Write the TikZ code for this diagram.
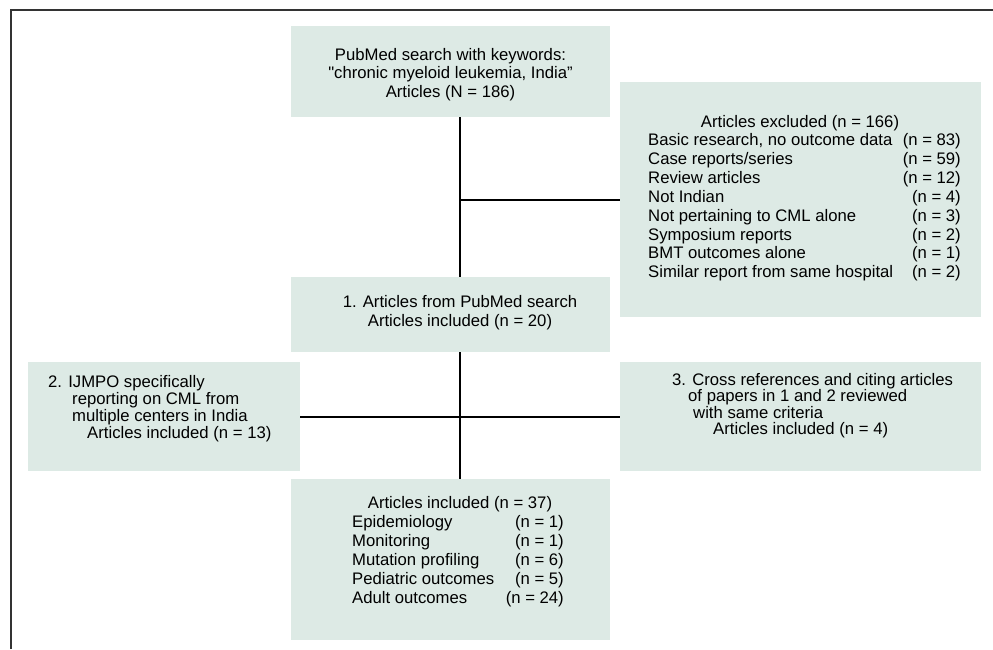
\documentclass[tikz,border=0pt]{standalone}
\usepackage{fontspec}
\setmainfont{Liberation Sans}[Ligatures=TeXOff]
\definecolor{boxfill}{RGB}{221,234,229}
\begin{document}
\begin{tikzpicture}[x=1pt,y=-1pt,
  box/.style={fill=boxfill, draw=none, inner sep=0pt, anchor=north west},
  txt/.style={inner sep=0pt, font=\fontsize{16.7}{19}\selectfont},
  conn/.style={line width=2.2pt, black},
  frameline/.style={line width=1.6pt, black!80}]
\useasboundingbox (0,0) rectangle (993,649);
% frame
\coordinate (fbl) at (11,649);
\coordinate (ftl) at (11,10);
\coordinate (ftr) at (993,10);
\draw[frameline] (fbl) -- (ftl) -- (ftr);
% boxes
\node[box, minimum width=319pt, minimum height=91pt] (top) at (291,26) {};
\node[box, minimum width=361pt, minimum height=235pt] (excl) at (620,82) {};
\node[box, minimum width=319pt, minimum height=75pt] (b1) at (291,277) {};
\node[box, minimum width=272pt, minimum height=109pt] (b2) at (28,362) {};
\node[box, minimum width=361pt, minimum height=109pt] (b3) at (620,362) {};
\node[box, minimum width=319pt, minimum height=161pt] (b4) at (291,479) {};
% trunk position
\coordinate (tx) at (460,0);
% connectors
\draw[conn] (top.south -| tx) -- (b1.north -| tx);
\draw[conn] (b1.south -| tx) -- (b4.north -| tx);
\draw[conn] (tx |- excl.west) -- (excl.west);
\draw[conn] (b2.east) -- (b3.west);
% top box text
\node[txt,anchor=base] (top1) at (450.5,60) {PubMed search with keywords:};
\node[txt,anchor=base] (top2) at (450.5,78.5) {"chronic myeloid leukemia, India”};
\node[txt,anchor=base] (top3) at (450.5,97) {Articles (N = 186)};
% exclusion box text
\node[txt,anchor=base] (exh) at (800,127) {Articles excluded (n = 166)};
\foreach [count=\i] \a/\b in {%
  {Basic research, no outcome data}/{(n = 83)},
  {Case reports/series}/{(n = 59)},
  {Review articles}/{(n = 12)},
  {Not Indian}/{(n = 4)},
  {Not pertaining to CML alone}/{(n = 3)},
  {Symposium reports}/{(n = 2)},
  {BMT outcomes alone}/{(n = 1)},
  {Similar report from same hospital}/{(n = 2)}}{%
  \node[txt,anchor=base west] (exl\i) at (648,127+18.85*\i) {\a};
  \node[txt,anchor=base east] (exr\i) at (961,127+18.85*\i) {\b};
}
% box 1 text
\node[txt,anchor=base] (b1a) at (460,307) {1. Articles from PubMed search};
\node[txt,anchor=base] (b1b) at (460,326.5) {Articles included (n = 20)};
% box 2 text
\node[txt,anchor=base west] (b2a) at (48,387) {2. IJMPO specifically};
\node[txt,anchor=base west] (b2b) at (72,404) {reporting on CML from};
\node[txt,anchor=base west] (b2c) at (72,421) {multiple centers in India};
\node[txt,anchor=base west] (b2d) at (87,438) {Articles included (n = 13)};
% box 3 text
\node[txt,anchor=base west] (b3a) at (672,385) {3. Cross references and citing articles};
\node[txt,anchor=base west] (b3b) at (688,401.5) {of papers in 1 and 2 reviewed};
\node[txt,anchor=base west] (b3c) at (693,418) {with same criteria};
\node[txt,anchor=base west] (b3d) at (713,434.5) {Articles included (n = 4)};
% box 4 text
\node[txt,anchor=base] (b4h) at (460,508) {Articles included (n = 37)};
\foreach [count=\i] \a/\b in {%
  {Epidemiology}/{(n = 1)},
  {Monitoring}/{(n = 1)},
  {Mutation profiling}/{(n = 6)},
  {Pediatric outcomes}/{(n = 5)},
  {Adult outcomes}/{(n = 24)}}{%
  \node[txt,anchor=base west] (b4l\i) at (352,508+19*\i) {\a};
  \node[txt,anchor=base east] (b4r\i) at (564,508+19*\i) {\b};
}
\end{tikzpicture}
\end{document}
